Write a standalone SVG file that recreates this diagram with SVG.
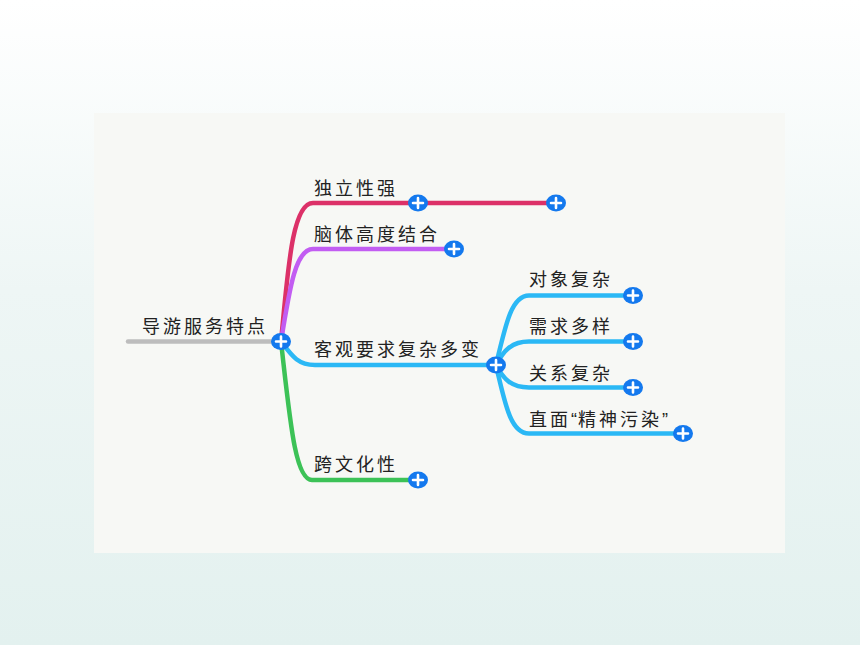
<svg xmlns="http://www.w3.org/2000/svg" width="860" height="645" viewBox="0 0 860 645">
<defs>
<linearGradient id="bg" x1="0" y1="0" x2="0" y2="1">
<stop offset="0" stop-color="#ffffff"/>
<stop offset="0.45" stop-color="#eef6f5"/>
<stop offset="1" stop-color="#e3f1ef"/>
</linearGradient>
<g id="plus">
<ellipse cx="0" cy="0" rx="10" ry="8.5" fill="#1479ee"/>
<path d="M-5,0H5M0,-5V5" stroke="#ffffff" stroke-width="2.6" stroke-linecap="round"/>
</g>
</defs>
<style>
text{font-family:"Noto Sans CJK SC","Liberation Sans",sans-serif;font-size:18px;fill:#222222;letter-spacing:3px}
.q{font-family:"Liberation Sans","Noto Sans CJK SC",sans-serif;letter-spacing:1px}
.ln{fill:none;stroke-width:4.5;stroke-linecap:round}
.red{stroke:#dc3168}
.pur{stroke:#c25df2}
.blu{stroke:#2bb8f5}
.grn{stroke:#3cc257}
.gry{stroke:#bdbdbd}
</style>
<rect x="0" y="0" width="860" height="645" fill="url(#bg)"/>
<rect x="94" y="113" width="691" height="440" fill="#f7f8f5"/>
<g id="connectors">
<path class="ln gry" d="M128,341.5H272"/>
<path class="ln red" d="M281,341.5C288,270 292,203 313,203H556"/>
<path class="ln pur" d="M281,341.5C290,285 296,249 313,249H454"/>
<path class="ln blu" d="M281,341.5C292,356 298,365 315,365H496"/>
<path class="ln grn" d="M281,341.5C290,420 295,480 312,480H418"/>
<path class="ln blu" d="M496,365C506,322 512,295.5 529,295.5H633"/>
<path class="ln blu" d="M496,365C504,350 512,341.5 529,341.5H633"/>
<path class="ln blu" d="M496,365C504,380 512,387.5 529,387.5H633"/>
<path class="ln blu" d="M496,365C506,410 512,433.5 529,433.5H683"/>
</g>
<g id="root"><text x="142" y="333">导游服务特点</text><use href="#plus" x="281" y="341.5"/></g>
<g id="n1"><text x="314" y="195">独立性强</text><use href="#plus" x="418" y="203"/><use href="#plus" x="556" y="203"/></g>
<g id="n2"><text x="314" y="241">脑体高度结合</text><use href="#plus" x="454" y="249"/></g>
<g id="n3"><text x="314" y="356">客观要求复杂多变</text><use href="#plus" x="496" y="365"/></g>
<g id="n4"><text x="314" y="471">跨文化性</text><use href="#plus" x="418" y="480"/></g>
<g id="n31"><text x="529" y="286">对象复杂</text><use href="#plus" x="633" y="295.5"/></g>
<g id="n32"><text x="529" y="333">需求多样</text><use href="#plus" x="633" y="341.5"/></g>
<g id="n33"><text x="529" y="380">关系复杂</text><use href="#plus" x="633" y="387.5"/></g>
<g id="n34"><text x="529" y="426">直面<tspan class="q">“</tspan>精神污染<tspan class="q">”</tspan></text><use href="#plus" x="683" y="433.5"/></g>
</svg>
